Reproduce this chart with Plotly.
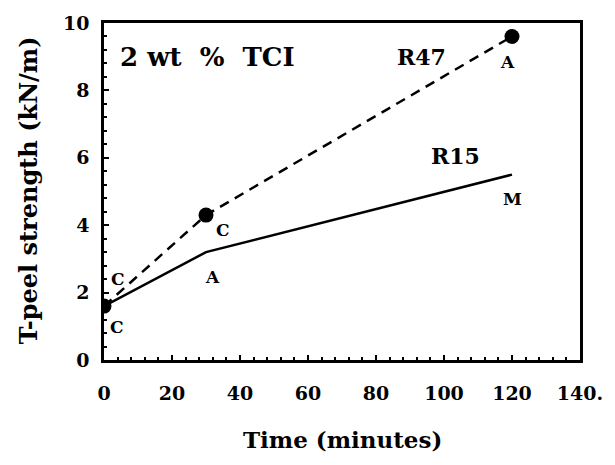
import plotly.graph_objects as go

time_min = [0, 30, 120]
r47_vals = [1.6, 4.3, 9.6]
r15_vals = [1.6, 3.2, 5.5]

x_tickvals = [0, 20, 40, 60, 80, 100, 120, 140]
x_ticktext = ["0", "20", "40", "60", "80", "100", "120", "140."]
y_tickvals = [0, 2, 4, 6, 8, 10]

# point labels (failure-mode letters) and series labels
pt_labels = ["C", "C", "C", "A", "A", "M"]
pt_x = [4.1, 3.7, 35.1, 32.0, 118.6, 120.1]
pt_y = [2.4, 0.98, 3.86, 2.46, 8.85, 4.79]
series_names = ["R47", "R15"]
series_x = [93.5, 103.3]
series_y = [8.99, 6.06]

FONT = "'DejaVu Serif', 'Liberation Serif', serif"

fig = go.Figure()
fig.add_trace(go.Scatter(
    x=time_min, y=r15_vals, mode="lines",
    line=dict(color="black", width=2.5),
    showlegend=False))
fig.add_trace(go.Scatter(
    x=time_min, y=r47_vals, mode="lines+markers",
    line=dict(color="black", width=2.5, dash="10px,7px"),
    marker=dict(color="black", size=15, symbol="circle"),
    showlegend=False))

annotations = []
for t, x, y in zip(pt_labels, pt_x, pt_y):
    annotations.append(dict(x=x, y=y, text=t, showarrow=False,
                            xanchor="center", yanchor="middle",
                            font=dict(family=FONT, size=17, color="black", weight="bold")))
for t, x, y in zip(series_names, series_x, series_y):
    annotations.append(dict(x=x, y=y, text=t, showarrow=False,
                            xanchor="center", yanchor="middle",
                            font=dict(family=FONT, size=22, color="black", weight="bold")))
annotations.append(dict(x=4.1, y=8.99, text="2 wt\u00a0\u00a0%\u00a0\u00a0TCI", showarrow=False,
                        xanchor="left", yanchor="middle",
                        font=dict(family=FONT, size=26, color="black", weight="bold")))
annotations.append(dict(xref="paper", yref="paper", x=0.5, y=-0.235,
                        text="Time (minutes)", showarrow=False,
                        xanchor="center", yanchor="middle",
                        font=dict(family=FONT, size=23, color="black", weight="bold")))
annotations.append(dict(xref="paper", yref="paper", x=-0.159, y=0.505,
                        text="T-peel strength (kN/m)", showarrow=False, textangle=-90,
                        xanchor="center", yanchor="middle",
                        font=dict(family=FONT, size=24, color="black", weight="bold")))

fig.update_layout(
    width=615, height=465,
    margin=dict(l=104, r=26, t=20, b=105),
    paper_bgcolor="white", plot_bgcolor="white",
    font=dict(family=FONT, color="black", weight="bold"),
    annotations=annotations,
)
fig.update_xaxes(
    range=[0, 140], tickvals=x_tickvals, ticktext=x_ticktext,
    showgrid=False, zeroline=False,
    showline=True, linecolor="black", linewidth=2.5, mirror=True,
    ticks="inside", ticklen=5, tickwidth=2, tickcolor="black",
    minor=dict(dtick=4, ticks="inside", ticklen=3, tickwidth=2, tickcolor="black"),
    tickfont=dict(family=FONT, size=19, color="black", weight="bold"),
    ticklabelstandoff=14,
)
fig.update_yaxes(
    range=[0, 10], tickvals=y_tickvals,
    showgrid=False, zeroline=False,
    showline=True, linecolor="black", linewidth=2.5, mirror=True,
    ticks="inside", ticklen=5, tickwidth=2, tickcolor="black",
    minor=dict(dtick=0.4, ticks="inside", ticklen=3, tickwidth=2, tickcolor="black"),
    tickfont=dict(family=FONT, size=19, color="black", weight="bold"),
    ticklabelstandoff=8,
)

fig.write_html("out.html")
